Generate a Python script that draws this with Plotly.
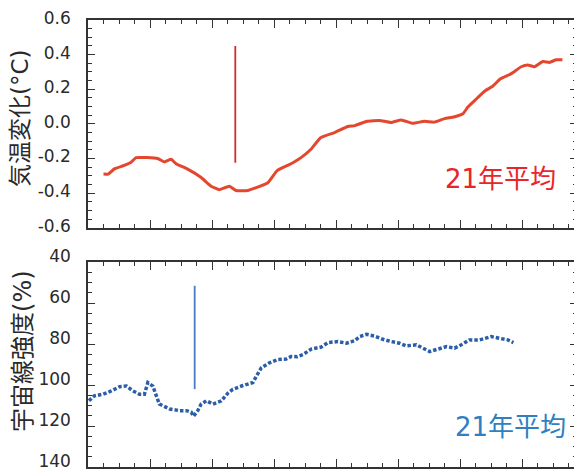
import plotly.graph_objects as go

# Temperature change (21-year mean), degC
temp_years = [1855, 1856.5, 1858.5, 1861.7, 1864, 1865.5, 1869, 1872.5, 1874.6, 1876.8,
              1878.4, 1882, 1886.5, 1889.7, 1892.4, 1895.6, 1897.7, 1901.5, 1904, 1908,
              1911, 1914.4, 1916.5, 1918.7, 1922, 1925, 1929.5, 1933.8, 1936, 1940,
              1944, 1947.7, 1951, 1954.7, 1958.5, 1961.7, 1965, 1968, 1970.9, 1972.5,
              1975, 1978, 1980.5, 1983, 1986.5, 1989.7, 1991.8, 1994, 1996.7, 1998.8,
              2001, 2003]
temp_vals = [-0.29, -0.29, -0.26, -0.24, -0.22, -0.195, -0.195, -0.20, -0.22, -0.205,
             -0.23, -0.26, -0.31, -0.36, -0.38, -0.36, -0.385, -0.385, -0.37, -0.34,
             -0.27, -0.24, -0.22, -0.195, -0.145, -0.08, -0.05, -0.015, -0.01, 0.015,
             0.02, 0.008, 0.023, 0.003, 0.015, 0.01, 0.03, 0.04, 0.058, 0.097,
             0.14, 0.19, 0.217, 0.26, 0.29, 0.33, 0.34, 0.33, 0.36, 0.355,
             0.37, 0.37]

# Cosmic ray intensity (21-year mean), %
cr_years = [1850.3, 1852, 1854.8, 1857.5, 1860.2, 1862.4, 1864.5, 1866.6, 1868.2, 1869.3,
            1870.9, 1872, 1873, 1876.3, 1879.5, 1881.7, 1883.3, 1884, 1885.4, 1886.5,
            1888.2, 1890.3, 1893, 1895.1, 1896.7, 1899.5, 1903.2, 1904.3, 1905.9, 1908.5,
            1911.2, 1913.9, 1915.5, 1917.5, 1919.3, 1922, 1925.2, 1927.4, 1930.6, 1933.3,
            1936, 1937.6, 1939.8, 1942.4, 1945.1, 1947.8, 1950.5, 1952.6, 1955.9, 1958,
            1960.2, 1962.8, 1965.6, 1968.2, 1970.4, 1973, 1976.3, 1980, 1982.7, 1985.4,
            1987.2]
cr_vals = [107.7, 105.3, 104.5, 102.9, 100.8, 100.5, 102.9, 104.5, 104.5, 98.8,
           100.5, 105.3, 109.3, 111.7, 112.5, 112.5, 113.3, 115.2, 112.5, 109.3,
           107.7, 109.3, 107.7, 104.0, 102.1, 100.5, 98.8, 95.7, 91.6, 89.2,
           87.6, 87.3, 86.1, 86.2, 85.2, 82.5, 81.5, 79.3, 78.8, 79.6,
           78.4, 76.4, 75.3, 76.1, 77.7, 78.8, 79.6, 80.9, 80.4, 82.0,
           83.7, 82.5, 81.3, 82.0, 80.4, 78.0, 78.0, 76.4, 77.2, 78.0,
           79.3]

# Marker lines
temp_mark_x = [1897.5, 1897.5]
temp_mark_y = [0.45, -0.225]
cr_mark_x = [1884.4, 1884.4]
cr_mark_y = [51.6, 102.0]

temp_ticks = [-0.6, -0.4, -0.2, 0.0, 0.2, 0.4, 0.6]
temp_tick_text = ["-0.6", "-0.4", "-0.2", "0.0", "0.2", "0.4", "0.6"]
cr_ticks = [40, 60, 80, 100, 120, 140]
cr_tick_text = ["40", "60", "80", "100", "120", "140"]

temp_title = "気温変化(°C)"
cr_title = "宇宙線強度(%)"
label_text = "21年平均"
x_range = [1850, 2007.7]

FONT = "DejaVu Sans, Noto Sans CJK JP, sans-serif"
AX = "#333333"

fig = go.Figure()
fig.add_trace(go.Scatter(x=temp_years, y=temp_vals, mode="lines",
                         line=dict(color="#e3472d", width=3, shape="spline", smoothing=0.4),
                         xaxis="x", yaxis="y", showlegend=False))
fig.add_trace(go.Scatter(x=temp_mark_x, y=temp_mark_y, mode="lines",
                         line=dict(color="#d8282e", width=1.8),
                         xaxis="x", yaxis="y", showlegend=False))
fig.add_trace(go.Scatter(x=cr_years, y=cr_vals, mode="lines",
                         line=dict(color="#2a5ea8", width=3.5, dash="3.5px,2px"),
                         xaxis="x2", yaxis="y2", showlegend=False))
fig.add_trace(go.Scatter(x=cr_mark_x, y=cr_mark_y, mode="lines",
                         line=dict(color="#4a7bc2", width=1.8),
                         xaxis="x2", yaxis="y2", showlegend=False))

common_x = dict(range=x_range, showticklabels=False, ticks="inside", tick0=1850, dtick=20,
                ticklen=8, tickwidth=1.3, tickcolor=AX, showline=True, linecolor=AX,
                linewidth=1.5, mirror="ticks", showgrid=False, zeroline=False,
                automargin=False,
                minor=dict(dtick=5, ticks="inside", ticklen=4, tickwidth=1.2, tickcolor=AX,
                           showgrid=False))
common_y = dict(ticks="inside", ticklen=7, tickwidth=1.3, tickcolor=AX, showline=True,
                linecolor=AX, linewidth=1.5, mirror="ticks", showgrid=False, zeroline=False,
                automargin=False, ticklabeloverflow="allow",
                tickfont=dict(family=FONT, size=17, color="#2a2a2a"), ticklabelstandoff=12)

# page body adds an 8px offset, so the figure is 8px smaller and margins shifted
fig.update_layout(
    width=574, height=463,
    margin=dict(l=80, r=5, t=12, b=4),
    paper_bgcolor="white", plot_bgcolor="white",
    font=dict(family=FONT),
    xaxis=dict(domain=[0, 1], anchor="y", **common_x),
    xaxis2=dict(domain=[0, 1], anchor="y2", **common_x),
    yaxis=dict(domain=[0.5353, 1], anchor="x", range=[-0.6, 0.6],
               tickvals=temp_ticks, ticktext=temp_tick_text, ticklabelshift=-2,
               minor=dict(dtick=0.05, ticks="inside", ticklen=4, tickwidth=1.2,
                          tickcolor=AX, showgrid=False),
               **common_y),
    yaxis2=dict(domain=[0, 0.4586], anchor="x2", range=[140, 40],
                tickvals=cr_ticks, ticktext=cr_tick_text, ticklabelshift=6,
                minor=dict(dtick=5, ticks="inside", ticklen=4, tickwidth=1.2,
                           tickcolor=AX, showgrid=False),
                **common_y),
    annotations=[
        dict(text=temp_title, x=-0.139, y=0.781, xref="paper", yref="paper",
             xanchor="center", yanchor="middle", textangle=-90, showarrow=False,
             font=dict(family=FONT, size=23, color="#2a2a2a")),
        dict(text=cr_title, x=-0.133, y=0.2595, xref="paper", yref="paper",
             xanchor="center", yanchor="middle", textangle=-90, showarrow=False,
             font=dict(family=FONT, size=24, color="#2a2a2a")),
        dict(text=label_text, x=0.843, y=-0.32, xref="paper", yref="y",
             xanchor="center", yanchor="middle",
             showarrow=False, font=dict(family=FONT, size=26, color="#e8252a")),
        dict(text=label_text, x=0.864, y=120.5, xref="paper", yref="y2",
             xanchor="center", yanchor="middle",
             showarrow=False, font=dict(family=FONT, size=26, color="#2f7fc1")),
    ],
)

fig.write_html("out.html")
